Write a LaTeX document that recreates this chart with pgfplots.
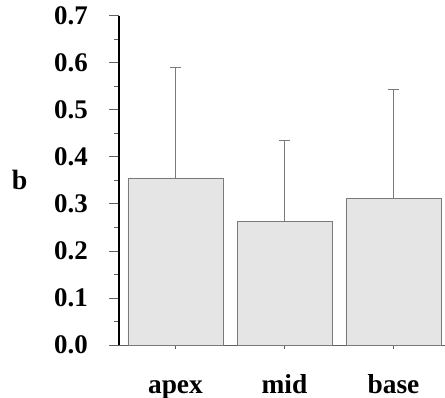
\documentclass[border=0pt]{standalone}
\usepackage{fontspec}
\setmainfont{Liberation Serif}
\usepackage{pgfplots}
\pgfplotsset{compat=1.18}
\definecolor{barfill}{HTML}{E5E5E5}
\definecolor{bardraw}{HTML}{7A7A7A}
\definecolor{tickgray}{HTML}{606060}
\begin{document}
\begin{tikzpicture}
\path[use as bounding box] (-119bp,-53bp) rectangle (326bp,345bp);
\begin{axis}[
  scale only axis,
  width=326bp, height=329.3bp,
  xmin=-0.518, xmax=2.473,
  ymin=0, ymax=0.7,
  axis lines=left,
  axis line style={-},
  y axis line style={black, line width=1.6bp},
  x axis line style={tickgray, line width=0.9bp},
  tick align=outside,
  ytick={0,0.1,...,0.7},
  minor y tick num=1,
  major tick length=10bp,
  minor tick length=5bp,
  ytick style={tickgray, line width=0.8bp},
  minor y tick style={tickgray, line width=0.8bp},
  xtick={0,1,2},
  xticklabels={apex,mid,base},
  xtick style={tickgray, line width=0.8bp, /pgfplots/major tick length=4bp},
  /pgf/number format/assume math mode=true,
  yticklabel style={font=\bfseries\fontsize{27}{27}\selectfont, inner sep=0pt, xshift=-21bp,
    /pgf/number format/fixed, /pgf/number format/fixed zerofill, /pgf/number format/precision=1},
  xticklabel style={font=\bfseries\fontsize{27.5}{27.5}\selectfont, inner sep=0pt, anchor=base, yshift=-38bp},
  ylabel={b},
  ylabel style={font=\bfseries\fontsize{28}{28}\selectfont, rotate=-90, at={(axis description cs:-0.305,0.5)}, anchor=center},
  clip=false,
]
\addplot[ybar, bar width=95bp, fill=barfill, draw=bardraw, line width=0.8bp,
  error bars/.cd, y dir=plus, y explicit,
  error mark=|,
  error bar style={bardraw, line width=0.8bp},
  error mark options={bardraw, line width=0.8bp, mark size=5.5bp}]
  coordinates {
  (0,0.355) +- (0,0.236)
  (1,0.262) +- (0,0.173)
  (2,0.311) +- (0,0.232)
  };
\end{axis}
\end{tikzpicture}
\end{document}
